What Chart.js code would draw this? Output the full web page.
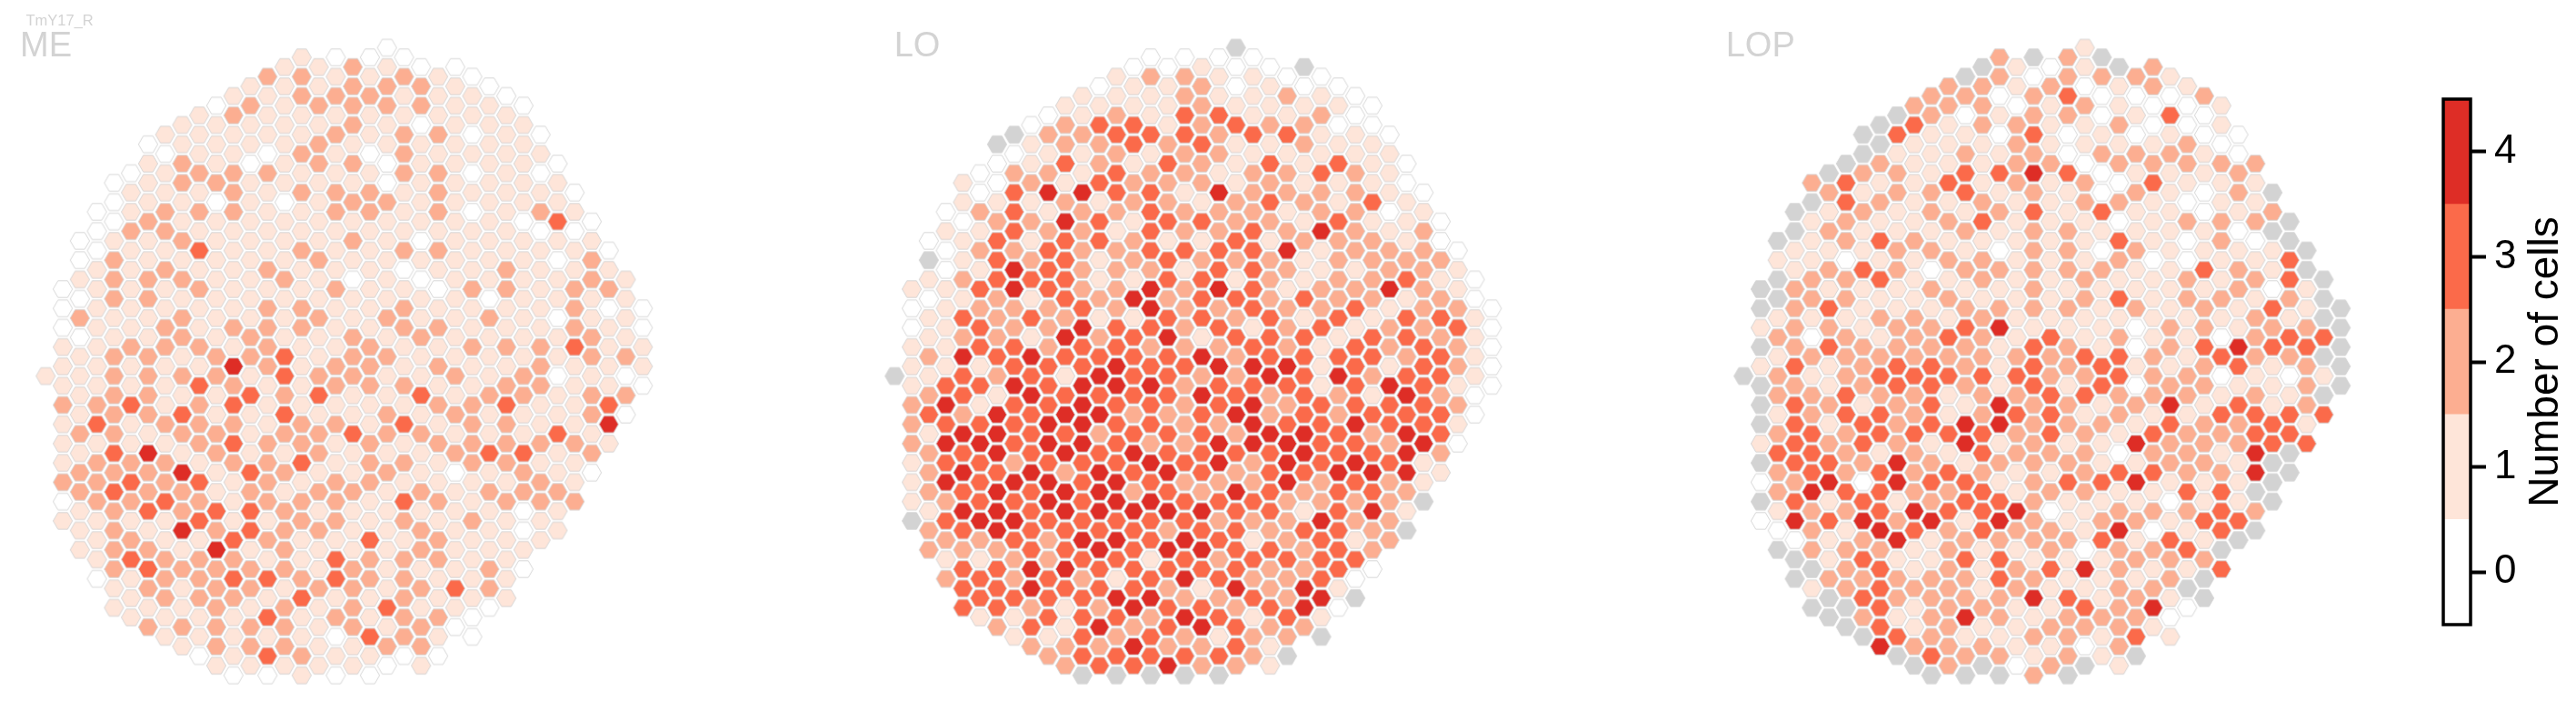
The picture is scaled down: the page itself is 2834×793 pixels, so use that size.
<!DOCTYPE html>
<html>
<head>
<meta charset="utf-8">
<title>TmY17_R</title>
<script src="https://cdn.jsdelivr.net/npm/chart.js@4/dist/chart.umd.js"></script>
<style>
    html, body { margin: 0; background: #fff; overflow: hidden; }
    canvas { position: absolute; }
</style>
</head>
<body>
<canvas id="panel-me"></canvas>
<canvas id="panel-lo"></canvas>
<canvas id="panel-lop"></canvas>
<canvas id="colorbar"></canvas>
<script>
// ── Data ─────────────────────────────────────────────────────────
// One list per hex column, top to bottom. N = column with no data (grey).
// *Start is the half-row of the first cell in each column.
const N = null;

const meStart = [34,25,20,17,14,13,10,9,8,7,6,5,4,3,2,1,2,1,2,1,0,1,2,3,2,3,4,5,6,9,12,15,18,21,24,27];
const meCells = [
    [1],
    [0,0,0,1,1,1,2,1,1,1,2,0,1],
    [0,0,1,0,2,0,1,1,1,1,2,1,2,2,1,1,1],
    [0,0,0,1,1,1,1,1,1,1,2,3,1,2,2,2,1,1,1,0],
    [0,0,0,1,2,2,2,1,1,2,2,2,2,2,3,2,3,2,2,2,2,1,1],
    [0,1,1,2,1,1,1,1,1,2,1,1,3,1,1,2,3,2,1,2,3,1,1,1],
    [0,1,1,1,2,1,1,2,2,1,1,2,2,2,2,1,4,2,2,3,1,2,3,2,1,2],
    [1,0,1,1,2,2,1,2,1,1,2,2,1,1,1,2,1,2,2,3,1,1,2,2,2,1,1],
    [1,1,2,2,1,1,2,1,2,1,2,2,1,2,1,3,2,1,4,2,2,4,1,2,1,1,2,1],
    [1,1,1,2,1,2,1,3,1,2,1,1,2,1,3,2,2,2,1,3,2,3,1,2,2,2,1,1,0],
    [0,1,1,1,2,0,1,1,1,1,1,1,1,2,2,1,1,2,2,1,1,3,2,4,2,2,2,2,2,1],
    [1,2,1,1,2,2,2,1,1,1,1,1,2,1,4,2,3,2,3,2,1,1,1,3,2,3,2,1,1,1,0],
    [1,2,1,1,0,1,1,1,1,1,1,1,1,2,2,1,3,1,1,1,3,2,3,3,1,2,2,1,2,2,1],
    [2,1,1,1,0,2,1,1,1,1,2,1,2,2,2,2,1,1,1,2,2,2,2,1,2,1,3,1,3,1,3,0],
    [1,1,1,1,1,1,1,0,1,1,1,2,1,1,1,3,3,2,3,2,1,2,1,2,2,2,2,1,2,2,2,1],
    [1,2,2,1,1,2,1,2,1,1,2,1,1,2,2,1,1,1,1,2,2,3,1,2,2,1,1,2,3,1,1,2,1],
    [1,1,2,1,2,2,1,1,1,1,2,1,1,2,1,1,2,3,1,2,2,1,2,1,2,1,1,2,1,1,1,1],
    [0,1,2,1,2,1,1,2,2,1,1,1,2,1,1,1,2,2,1,2,1,1,2,2,2,1,3,3,1,2,0,1,0],
    [2,2,2,2,1,2,1,2,1,2,1,0,1,1,2,2,2,1,1,3,1,1,2,1,1,1,2,2,2,2,1,1],
    [0,1,2,1,1,0,1,2,2,1,1,1,1,1,1,2,2,2,1,1,2,2,2,1,1,3,2,2,1,1,3,1,0],
    [0,1,2,2,1,1,0,0,2,1,1,1,1,1,2,1,2,1,1,2,2,1,2,1,1,1,1,1,1,3,1,2,0],
    [0,2,1,1,2,2,2,1,1,1,2,0,1,2,2,1,1,2,1,3,1,2,1,3,2,1,2,2,2,2,2,0],
    [0,2,2,0,1,1,1,1,1,0,1,0,1,1,2,1,1,3,1,2,1,1,2,1,2,2,1,2,1,2,2,1],
    [1,1,1,2,1,2,2,2,1,2,1,0,1,2,1,2,1,2,1,2,1,1,2,1,2,2,1,1,2,1,0],
    [0,1,1,1,1,1,1,1,1,1,1,1,1,1,1,1,2,1,2,1,2,0,1,1,1,1,1,3,1,0],
    [0,1,1,0,1,0,1,0,1,1,1,2,1,1,2,1,1,2,2,2,2,1,1,2,1,1,1,1,0,0],
    [0,1,1,1,1,1,1,1,1,1,1,0,2,1,1,1,2,1,1,3,1,2,1,1,1,2,2,0],
    [0,1,1,1,1,1,1,1,1,2,2,1,1,2,1,2,3,2,2,2,1,2,1,1,1,1,1],
    [0,1,1,1,1,1,0,1,1,1,1,1,1,1,2,2,1,1,3,2,2,0,0,1,0],
    [0,1,0,1,2,0,1,1,1,1,1,2,2,2,1,1,2,1,2,2,1,1],
    [0,1,1,3,1,0,1,1,0,1,1,0,1,1,3,1,1,2,1,1],
    [0,1,0,1,1,2,2,2,3,1,1,1,1,2,1,1,2],
    [0,1,2,2,1,1,2,2,1,2,2,1,2,0],
    [0,1,2,0,1,1,1,1,3,4,1],
    [1,1,1,1,2,0,2,0],
    [0,0,1,1,0],
];

const loStart = [34,25,20,17,14,13,10,9,8,7,6,5,4,3,2,1,2,1,2,1,0,1,2,3,2,3,4,5,6,9,12,15,18,21,24,27];
const loCells = [
    [N],
    [1,0,0,1,1,1,2,2,2,1,1,1,N],
    [0,N,1,0,1,1,2,1,2,3,1,2,2,2,1,2,2],
    [0,1,0,0,1,1,1,1,1,3,4,3,4,3,4,2,3,2,1,2],
    [1,1,0,1,1,2,1,3,2,4,3,3,2,4,3,4,3,4,3,2,3,3,3],
    [0,0,2,1,2,1,3,2,3,3,1,3,1,3,4,3,3,3,4,2,1,3,3,1],
    [N,0,0,1,2,3,3,3,2,2,2,3,2,1,4,4,4,3,4,4,4,2,3,3,3,2],
    [N,0,2,3,3,3,2,4,4,2,2,3,3,4,3,3,3,2,4,3,4,3,2,2,3,1,1],
    [0,1,1,2,1,2,1,2,3,1,3,1,4,3,4,3,3,3,4,3,3,3,3,4,4,2,3,2],
    [0,2,1,2,4,1,2,3,3,3,2,2,2,3,3,3,4,4,3,4,4,3,2,2,3,3,3,1,2],
    [1,2,2,3,1,2,4,3,3,3,3,2,4,3,1,3,4,3,4,2,4,4,3,3,4,3,1,1,2,2],
    [1,1,2,1,1,4,2,2,2,2,2,3,4,3,3,4,4,4,4,3,3,3,3,4,3,2,3,3,3,3,N],
    [0,1,3,2,2,3,1,3,3,1,1,2,1,2,3,4,3,4,2,3,4,4,4,3,4,3,3,2,4,2,3],
    [1,1,2,3,2,3,3,2,1,2,2,2,2,3,3,4,4,3,3,3,3,4,4,3,4,3,1,4,3,2,3,N],
    [0,1,1,3,3,1,2,2,1,2,2,1,4,1,3,3,3,3,2,3,4,3,2,4,3,3,3,3,4,2,4,3],
    [0,2,1,1,3,1,2,3,3,3,3,2,4,4,3,2,3,4,3,3,2,4,3,4,3,3,1,3,4,2,3,3,N],
    [0,1,1,1,2,3,2,2,3,1,3,3,2,3,4,3,3,3,2,3,3,4,3,4,2,4,3,2,3,3,2,4],
    [0,2,2,3,3,2,2,1,2,2,3,1,2,2,2,2,3,2,2,2,2,3,2,3,3,4,3,4,2,4,2,3,N],
    [1,2,2,2,3,2,2,1,3,1,2,3,3,3,1,4,2,4,3,3,3,3,2,4,3,4,3,1,3,4,2,2],
    [0,1,1,3,2,2,1,4,2,2,3,3,4,2,3,2,4,3,3,2,4,4,2,3,2,3,2,3,2,3,1,3,N],
    [N,0,0,1,3,1,1,1,2,2,3,2,1,3,2,3,2,2,3,4,2,3,2,4,3,3,3,3,4,2,3,3,2],
    [0,1,1,1,3,1,2,2,2,3,3,3,3,3,1,3,4,3,4,4,4,2,2,3,2,1,3,2,3,1,2,2],
    [0,1,1,2,1,3,2,3,2,1,2,2,2,3,3,3,4,2,2,4,3,3,3,3,2,3,2,2,3,2,1,1],
    [0,2,1,3,1,2,2,1,2,4,2,1,2,2,2,4,3,2,3,4,4,4,2,2,2,3,2,2,3,2,N],
    [N,0,1,2,2,1,1,2,1,2,1,1,3,1,3,3,3,3,3,4,4,3,2,1,3,2,2,4,4,2],
    [0,1,2,1,1,3,2,2,4,1,1,2,2,3,1,1,1,3,3,3,3,2,2,4,3,3,3,4,1,N],
    [0,1,0,1,3,1,1,3,2,2,2,2,3,1,3,4,2,2,3,3,4,3,3,3,3,3,1,0],
    [0,0,1,1,2,2,2,2,2,1,2,3,1,3,3,3,3,4,3,4,3,2,2,1,3,0,N],
    [0,0,1,1,1,3,1,2,2,2,2,1,3,3,2,1,3,2,3,4,3,4,2,2,0],
    [0,1,1,1,0,1,2,2,4,1,2,2,1,4,3,3,2,3,2,2,2,2],
    [0,0,1,1,1,2,3,1,3,3,2,3,4,3,4,4,4,2,1,N],
    [0,1,2,2,2,2,2,2,3,3,3,3,3,4,1,1,N],
    [0,0,2,1,2,3,2,3,3,2,3,3,2,1],
    [0,1,1,2,3,2,2,1,2,1,0],
    [0,0,1,1,1,1,0,0],
    [0,0,0,0,0],
];

const lopStart = [34,25,20,17,14,13,12,9,8,7,6,5,4,3,2,1,2,1,2,1,0,1,2,3,2,3,4,5,6,9,12,15,18,21,24,27];
const lopCells = [
    [N],
    [N,N,1,N,1,N,N,N,1,N,0,N,0],
    [N,1,N,N,1,2,1,2,2,1,2,3,2,2,1,0,N],
    [N,N,1,1,2,2,2,2,3,2,3,3,3,3,2,3,4,0,N,N],
    [2,N,1,1,1,2,2,1,0,2,1,2,2,3,3,3,4,2,2,2,N,1,N],
    [N,2,1,2,1,2,1,3,2,3,1,1,2,1,2,3,4,1,3,1,1,2,N,N],
    [N,3,3,2,2,0,2,2,1,2,2,2,3,3,2,2,2,3,2,1,2,2,2,N,N],
    [N,N,2,1,2,1,1,3,1,1,1,2,2,2,1,3,3,2,0,3,4,2,3,2,3,2,N],
    [N,N,2,1,2,1,3,1,3,1,2,1,2,3,2,3,3,1,3,3,3,4,2,3,3,3,3,4],
    [N,3,1,2,2,1,1,2,2,1,1,2,2,3,3,2,2,2,4,4,1,2,4,1,2,2,1,3,N],
    [2,3,1,1,1,1,1,2,1,1,1,2,2,2,3,2,2,3,2,2,2,4,3,1,1,2,1,1,2,N],
    [2,2,1,1,1,2,2,1,2,0,2,1,2,2,3,3,3,3,1,2,3,2,4,1,1,2,2,2,2,3,N],
    [2,2,1,1,1,3,1,2,1,2,1,2,1,3,2,3,1,1,3,1,3,2,3,2,2,2,2,2,2,2,2],
    [N,2,0,1,2,3,3,1,2,1,2,1,2,3,2,2,2,1,4,4,1,3,3,1,2,3,2,2,4,1,2,N],
    [N,2,2,2,1,1,1,2,3,1,2,2,1,2,2,2,3,2,2,3,3,2,3,3,3,1,1,1,2,1,2,N],
    [2,2,0,1,0,1,3,1,2,1,0,2,1,2,4,1,1,1,4,4,1,2,1,3,4,2,3,3,2,2,1,2,N],
    [1,1,0,2,2,2,2,1,1,1,1,1,1,1,1,2,3,2,3,2,2,1,1,4,2,1,2,2,1,1,1,0],
    [N,0,2,2,3,2,4,2,3,2,2,2,2,2,1,3,3,3,2,2,2,2,2,2,2,2,1,2,4,1,2,1,2],
    [0,2,1,1,1,2,1,1,1,1,1,1,1,1,3,2,2,3,3,3,2,1,2,0,2,2,3,1,1,2,1,2],
    [2,2,3,2,0,0,3,1,1,2,2,2,1,2,1,2,2,1,2,2,1,2,3,1,1,2,1,1,3,2,2,2,N],
    [1,1,0,2,1,1,0,2,2,1,1,1,2,2,1,1,3,2,3,1,2,2,2,2,1,1,0,4,1,3,2,0,N],
    [N,2,0,0,1,2,0,0,3,1,0,2,1,1,1,1,3,3,1,2,1,1,3,1,2,3,1,1,1,2,1,1],
    [N,1,1,2,1,2,0,2,0,3,2,1,3,1,2,3,3,2,2,1,0,3,1,2,4,2,2,2,2,2,2,1],
    [2,0,1,0,2,1,2,1,1,2,1,1,2,0,0,1,0,2,1,4,1,4,1,2,1,2,1,2,2,3,N],
    [2,2,0,0,1,2,3,1,1,1,0,1,1,1,1,2,2,2,1,3,2,3,1,2,0,2,1,2,4,1],
    [1,0,3,1,2,1,1,1,1,1,1,1,1,2,2,1,2,4,3,2,2,1,0,1,3,2,2,1,0,1],
    [1,0,0,2,2,1,0,2,0,0,2,2,1,1,1,2,2,1,2,2,2,3,2,1,3,1,N,0],
    [2,0,0,1,1,0,0,1,1,3,1,2,2,3,2,2,1,2,2,2,1,1,3,1,2,N,N],
    [1,1,0,2,1,1,2,2,1,1,2,1,0,3,0,1,3,2,1,2,3,3,3,N,3],
    [0,0,2,2,1,0,1,2,2,1,1,4,3,1,3,2,2,1,1,1,3,N],
    [2,1,1,2,0,1,2,1,2,2,2,1,2,3,3,4,4,N,2,N],
    [N,2,N,1,1,0,3,2,3,1,1,1,3,3,N,N,N],
    [N,N,3,3,2,1,3,2,0,1,3,3,N,N],
    [N,N,1,1,2,3,2,2,2,1,3],
    [N,N,N,3,N,1,N,3],
    [N,N,N,N,N],
];

const barLevels  = [0, 1, 2, 3, 4];
const cellColors = ["#ffffff", "#fee5d9", "#fcae91", "#fb6a4a", "#de2d26"];
const noDataColor = "#d3d3d3";

// ── Layout ───────────────────────────────────────────────────────
const COL_PX = 18.77;
const ROW_PX = 10.62;
const HEX_R  = 10.6;
const TOP_PX = 52.5;
const LABEL_FONT = '"Liberation Sans", Arial, sans-serif';

// ── Hexagon sprites ──────────────────────────────────────────────
function hexSprite(color) {
    const size = 26;
    const c = document.createElement("canvas");
    c.width = c.height = size;
    const ctx = c.getContext("2d");
    ctx.beginPath();
    for (let i = 0; i < 6; i++) {
        const a = i * Math.PI / 3;
        ctx.lineTo(size / 2 + HEX_R * Math.cos(a), size / 2 + HEX_R * Math.sin(a));
    }
    ctx.closePath();
    ctx.fillStyle = color;
    ctx.fill();
    ctx.strokeStyle = "rgba(211,211,211,0.9)";
    ctx.lineWidth = 1;
    ctx.stroke();
    return c;
}
const sprites = cellColors.map(hexSprite);
const noDataSprite = hexSprite(noDataColor);

// ── Charts ───────────────────────────────────────────────────────
const textLabels = {
    id: "textLabels",
    afterDraw(chart, args, opts) {
        const ctx = chart.ctx;
        opts.items.forEach(t => {
            ctx.save();
            ctx.translate(t.x, t.y);
            ctx.rotate(t.rotate || 0);
            ctx.font = `${t.size}px ${LABEL_FONT}`;
            ctx.fillStyle = t.color;
            ctx.textAlign = t.align || "left";
            ctx.textBaseline = "alphabetic";
            ctx.fillText(t.text, 0, 0);
            ctx.restore();
        });
    }
};

function buildPanel(canvasId, firstColPx, starts, cells, labels) {
    const canvas = document.getElementById(canvasId);
    const left = Math.floor(firstColPx - 2.5 * COL_PX);
    const top  = 8;
    const width = 760, height = 770;
    canvas.style.left = left + "px";
    canvas.style.top  = top + "px";
    canvas.width  = width;
    canvas.height = height;

    const points = [];
    cells.forEach((col, c) => {
        col.forEach((v, i) => points.push({ x: c, y: starts[c] + i * 2, v }));
    });

    const xMin = (left - firstColPx) / COL_PX;
    const yMin = (top - TOP_PX) / ROW_PX;

    new Chart(canvas, {
        type: "scatter",
        data: {
            datasets: [{
                data: points,
                pointRadius: HEX_R,
                pointStyle: (ctx) => {
                    const v = ctx.raw ? ctx.raw.v : 0;
                    return v === null ? noDataSprite : sprites[v];
                },
            }]
        },
        options: {
            responsive: false,
            animation: false,
            devicePixelRatio: 1,
            layout: { padding: 0, autoPadding: false },
            plugins: {
                legend: { display: false },
                tooltip: { enabled: false },
                textLabels: {
                    items: labels.map(t => ({ ...t, x: t.x - left, y: t.y - top, color: noDataColor }))
                }
            },
            scales: {
                x: { type: "linear", display: false, min: xMin, max: xMin + width / COL_PX },
                y: { type: "linear", display: false, reverse: true, min: yMin, max: yMin + height / ROW_PX },
            }
        },
        plugins: [textLabels]
    });
}

function buildColorbar() {
    const canvas = document.getElementById("colorbar");
    const left = 2660;
    canvas.style.left = left + "px";
    canvas.style.top  = "0px";
    canvas.width  = 174;
    canvas.height = 793;

    const frame = {
        id: "frame",
        afterDatasetsDraw(chart) {
            const { ctx, chartArea: a } = chart;
            ctx.save();
            ctx.strokeStyle = "#000";
            ctx.lineWidth = 3.5;
            ctx.strokeRect(a.left, a.top, a.right - a.left, a.bottom - a.top);
            ctx.restore();
        }
    };

    new Chart(canvas, {
        type: "bar",
        data: {
            labels: [""],
            datasets: barLevels.map(l => ({
                data: [[l - 0.5, l + 0.5]],
                backgroundColor: cellColors[l],
                barPercentage: 1,
                categoryPercentage: 1,
                grouped: false,
            }))
        },
        options: {
            responsive: false,
            animation: false,
            devicePixelRatio: 1,
            layout: { padding: { left: 28, top: 109, bottom: 106, right: 0 }, autoPadding: false },
            plugins: {
                legend: { display: false },
                tooltip: { enabled: false },
                textLabels: {
                    items: [{
                        text: "Number of cells", x: 2814 - left, y: 398, size: 46,
                        color: "#000", rotate: -Math.PI / 2, align: "center"
                    }]
                }
            },
            scales: {
                x: { display: false },
                y: {
                    position: "right",
                    min: -0.5,
                    max: 4.5,
                    afterFit: (s) => { s.width = 116; },
                    afterBuildTicks: (s) => { s.ticks = barLevels.map(v => ({ value: v })); },
                    border: { display: false },
                    grid: { drawOnChartArea: false, tickLength: 17, tickWidth: 4, tickColor: "#000" },
                    ticks: {
                        padding: 9,
                        color: "#000",
                        font: { family: LABEL_FONT, size: 44 },
                        callback: (v) => String(v),
                    }
                }
            }
        },
        plugins: [frame, textLabels]
    });
}

buildPanel("panel-me", 50.3, meStart, meCells, [
    { text: "TmY17_R", x: 28.5, y: 28.3, size: 16.5 },
    { text: "ME", x: 22, y: 61.7, size: 38 },
]);
buildPanel("panel-lo", 984.3, loStart, loCells, [
    { text: "LO", x: 983.7, y: 61.7, size: 38 },
]);
buildPanel("panel-lop", 1918.2, lopStart, lopCells, [
    { text: "LOP", x: 1898.7, y: 61.7, size: 38 },
]);
buildColorbar();
</script>
</body>
</html>
